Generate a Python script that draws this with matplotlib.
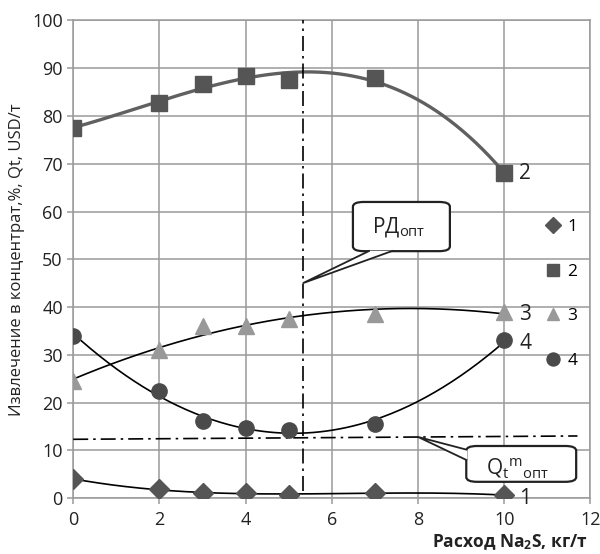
import matplotlib
matplotlib.use('Agg')
import matplotlib.pyplot as plt
import numpy as np
from matplotlib.lines import Line2D
from matplotlib.patches import FancyBboxPatch, Polygon

plt.rcParams['font.family'] = ['Open Sans', 'DejaVu Sans']
plt.rcParams['mathtext.fontset'] = 'custom'
plt.rcParams['mathtext.rm'] = 'Open Sans'
plt.rcParams['mathtext.it'] = 'Open Sans'
plt.rcParams['mathtext.bf'] = 'Open Sans:bold'

# Na2S consumption, kg/t
x = np.array([0, 2, 3, 4, 5, 7, 10])
s1 = [4.0, 1.8, 1.1, 1.0, 0.7, 1.1, 0.6]
s2 = [77.5, 82.8, 86.7, 88.3, 87.5, 88.0, 68.0]
s3 = [24.5, 31.0, 36.0, 36.0, 37.5, 38.5, 39.0]
s4 = [34.0, 22.5, 16.2, 14.7, 14.2, 15.5, 33.0]
labels = ['1', '2', '3', '4']

rd_opt = 5.33  # optimal reagent dose
qt_line = [12.3, 13.0]  # dash-dot level at x=0 and x=11.7

fig = plt.figure(figsize=(6, 5.54), dpi=100)
ax = fig.add_axes([0.122, 0.101, 0.862, 0.862])

ax.set_xlim(0, 12)
ax.set_ylim(0, 100)
ax.set_xticks(range(0, 13, 2))
ax.set_yticks(range(0, 101, 10))
ax.grid(True, color='#9a9a9a', lw=1.1)
ax.set_axisbelow(True)
for sp in ax.spines.values():
    sp.set_color('#9a9a9a')
    sp.set_linewidth(1.1)
ax.tick_params(axis='both', colors='#9a9a9a', length=4, width=1.1,
               labelcolor='#222222', labelsize=13)
ax.tick_params(axis='x', pad=5)

# trend lines (polynomial)
xs = np.linspace(0, 10, 200)
fits = [(s1, 3, 'black', 1.2), (s2, 3, '#606060', 2.4),
        (s3, 2, 'black', 1.2), (s4, 2, 'black', 1.2)]
for ys, deg, c, lw in fits:
    p = np.polyfit(x, ys, deg)
    ax.plot(xs, np.polyval(p, xs), color=c, lw=lw, zorder=3)

styles = [('D', '#555555', 10), ('s', '#555555', 11),
          ('^', '#999999', 11), ('o', '#4a4a4a', 11)]
for ys, (m, c, ms) in zip([s1, s2, s3, s4], styles):
    ax.plot(x, ys, ls='none', marker=m, color=c, ms=ms, zorder=4)

# end labels
for ys, lab, dy in zip([s1, s2, s3, s4], labels, [-0.6, 0, -0.6, -0.6]):
    ax.text(10.35, ys[-1] + dy, lab, fontsize=15, va='center', ha='left',
            color='#222222')

# dash-dot guide lines
dd = (0, (9, 3, 1.5, 3))
ax.plot([rd_opt, rd_opt], [1.5, 100], color='black', lw=1.2, ls=dd, zorder=3)
ax.plot([0, 11.7], qt_line, color='black', lw=1.2, ls=dd, zorder=3)

# callout РДопт
box1 = FancyBboxPatch((6.49, 51.7), 2.25, 10.3,
                      boxstyle='round,pad=0,rounding_size=0.25',
                      fc='white', ec='#222222', lw=1.6, zorder=5,
                      mutation_aspect=4)
ax.add_patch(box1)
ax.add_patch(Polygon([[6.88, 51.8], [rd_opt, 45.0], [7.42, 51.8]],
                     closed=False, fc='white', ec='#222222', lw=1.3, zorder=5))
ax.text(7.55, 56.8, 'РД$_{\\mathregular{опт}}$', fontsize=15, ha='center',
        va='center', zorder=6, color='#222222')

# callout Qt^m опт
box2 = FancyBboxPatch((9.12, 3.4), 2.55, 7.5,
                      boxstyle='round,pad=0,rounding_size=0.25',
                      fc='white', ec='#222222', lw=1.6, zorder=5,
                      mutation_aspect=4)
ax.add_patch(box2)
ax.add_patch(Polygon([[9.14, 10.1], [8.0, 12.8], [9.14, 7.9]],
                     closed=False, fc='white', ec='#222222', lw=1.3, zorder=5))
ax.text(10.3, 6.3, '$\\mathregular{Q_t{}^{m}{}_{опт}}$', fontsize=15,
        ha='center', va='center', zorder=6, color='#222222')

# legend
handles = [Line2D([], [], ls='none', marker=m, color=c, ms=ms * 0.85)
           for m, c, ms in styles]
ax.legend(handles, labels, loc='upper left', bbox_to_anchor=(0.915, 0.585),
          frameon=False, fontsize=12.5, handlelength=0.8, handletextpad=0.4,
          labelspacing=1.65, borderpad=0, borderaxespad=0)

ax.set_ylabel('Извлечение в концентрат,%, Qt, USD/т', fontsize=12,
              color='#222222', labelpad=5)
fig.text(0.98, 0.004, 'Расход Na$_\\mathbf{2}$S, кг/т', fontsize=12.5,
         fontweight='bold', ha='right', va='bottom', color='#222222')

fig.savefig('out.png', dpi=100)
